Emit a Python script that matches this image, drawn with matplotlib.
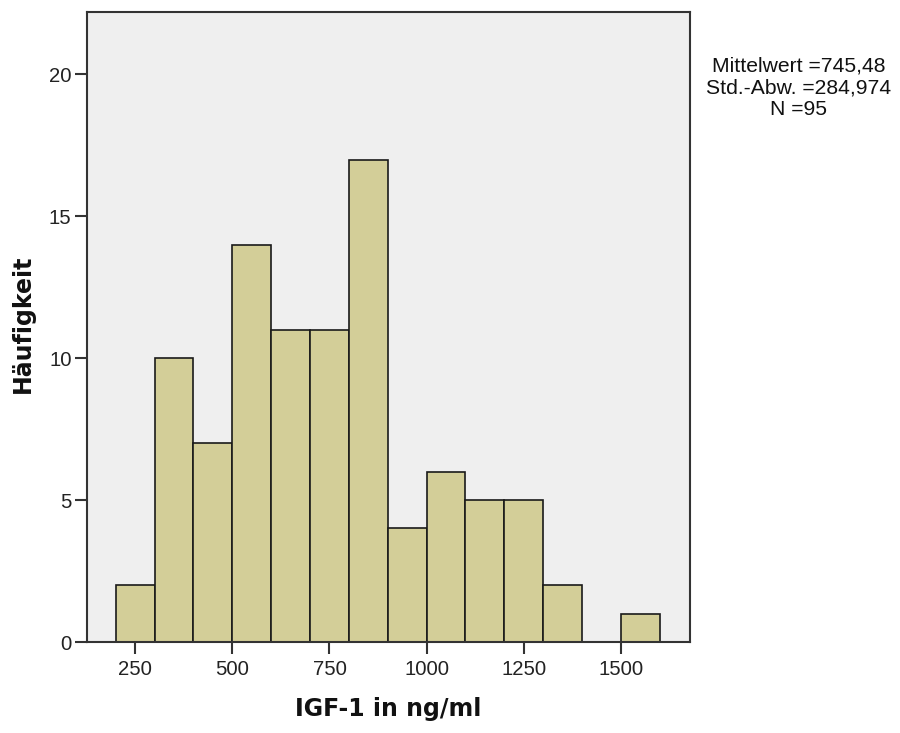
import matplotlib
matplotlib.use("Agg")
import matplotlib.pyplot as plt
import numpy as np

plt.rcParams['font.family'] = ['Liberation Sans', 'DejaVu Sans']

bin_edges = [200, 300, 400, 500, 600, 700, 800, 900, 1000, 1100, 1200, 1300, 1400, 1500, 1600]
counts = [2, 10, 7, 14, 11, 11, 17, 4, 6, 5, 5, 2, 0, 1]
x_ticks = [250, 500, 750, 1000, 1250, 1500]
y_ticks = [0, 5, 10, 15, 20]
stats_lines = ["Mittelwert =745,48", "Std.-Abw. =284,974", "N =95"]
x_label = "IGF-1 in ng/ml"
y_label = "Häufigkeit"

W, H = 900, 733
fig = plt.figure(figsize=(9, 7.33), dpi=100)
ax = fig.add_axes([87 / W, 1 - 642 / H, (690 - 87) / W, (642 - 12) / H])
ax.set_facecolor('#EFEFEF')

lefts = np.array(bin_edges[:-1])
widths = np.diff(bin_edges)
ax.bar(lefts, counts, width=widths, align='edge', color='#D3CE98',
       edgecolor='#1a1a1a', linewidth=1.2, zorder=2)

ax.set_xlim(126, 1678)
ax.set_ylim(0, 22.2)
ax.set_xticks(x_ticks)
ax.set_yticks(y_ticks)
ax.tick_params(axis='both', direction='out', length=8.6, width=1.5, color='#333333',
               labelsize=14.6, labelcolor='#222222')
ax.tick_params(axis='y', pad=2.5)
ax.tick_params(axis='x', pad=4.5)
for s in ax.spines.values():
    s.set_color('#333333')
    s.set_linewidth(1.5)

fig.text(388 / W, 1 - 716 / H, x_label, ha='center', va='baseline',
         fontsize=17, fontweight='bold', family='DejaVu Sans', color='#111111')
fig.text(23 / W, 1 - 324 / H, y_label, ha='center', va='center', rotation=90,
         fontsize=17, fontweight='bold', family='DejaVu Sans', color='#111111')

for i, line in enumerate(stats_lines):
    fig.text(799 / W, 1 - (71 + 22 * i) / H, line, ha='center', va='baseline',
             fontsize=15.2, color='#111111')

fig.savefig('out.png', dpi=100)
